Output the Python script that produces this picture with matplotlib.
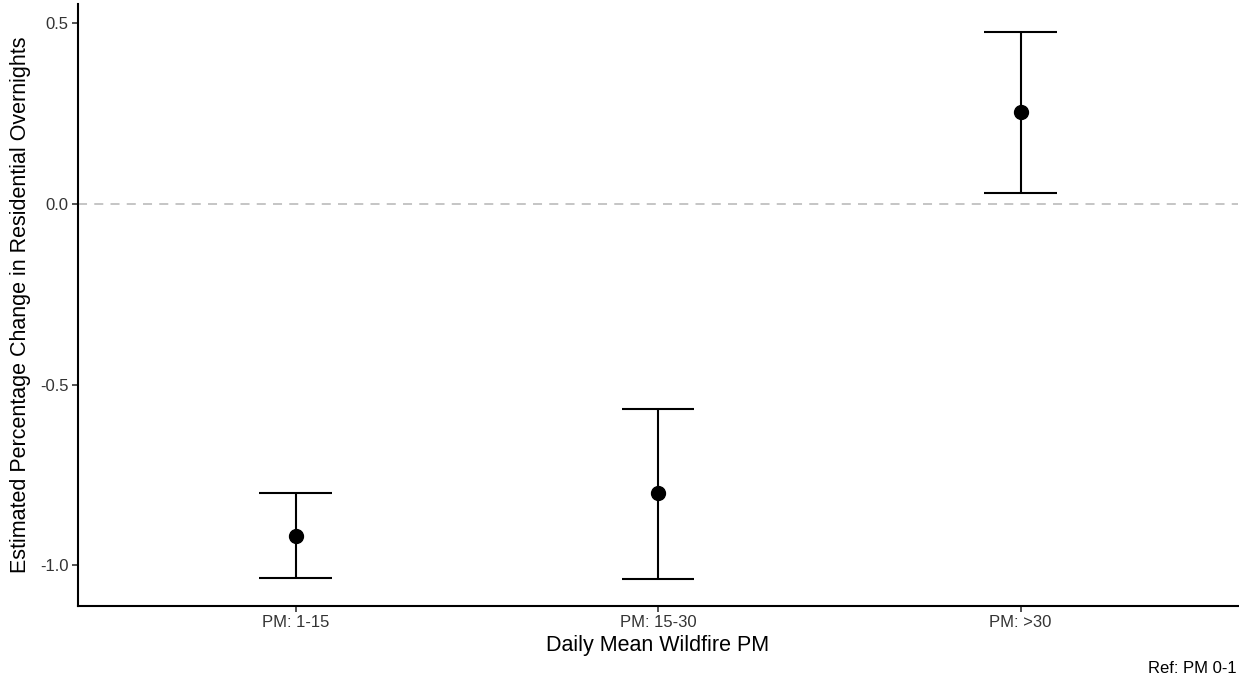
import matplotlib
matplotlib.use("Agg")
import matplotlib.pyplot as plt

plt.rcParams['font.family'] = ['Liberation Sans', 'DejaVu Sans']

categories = ["PM: 1-15", "PM: 15-30", "PM: >30"]
estimates = [-0.919, -0.800, 0.255]
lower = [-1.036, -1.038, 0.030]
upper = [-0.799, -0.567, 0.476]

fig = plt.figure(figsize=(12.39, 6.85), dpi=100)
ax = fig.add_axes([78/1239, (685-605.7)/685, (1238-78)/1239, (605.7-4)/685])

x = list(range(1, len(categories) + 1))
ax.axhline(0, color='#C0C0C0', lw=1.3, dashes=(5, 4), zorder=1)

for xi, lo, hi in zip(x, lower, upper):
    ax.vlines(xi, lo, hi, color='black', lw=1.5, zorder=2)
    ax.hlines([lo, hi], xi - 0.1, xi + 0.1, color='black', lw=1.5, zorder=2)
ax.plot(x, estimates, 'o', color='black', markersize=10, zorder=3)

ax.set_xlim(0.4, 3.6)
ax.set_ylim(-1.112, 0.553)
ax.set_xticks(x)
ax.set_xticklabels(categories)
ax.set_yticks([-1.0, -0.5, 0.0, 0.5])
ax.set_yticklabels(["-1.0", "-0.5", "0.0", "0.5"])

for s in ['top', 'right']:
    ax.spines[s].set_visible(False)
for s in ['left', 'bottom']:
    ax.spines[s].set_linewidth(1.5)
    ax.spines[s].set_color('black')

ax.tick_params(axis='both', length=4, width=1.2, color='#333333',
               labelsize=12, labelcolor='#333333', pad=3)

ax.set_xlabel("Daily Mean Wildfire PM", fontsize=15.5, color='black', labelpad=3)
ax.set_ylabel("Estimated Percentage Change in Residential Overnights", fontsize=15.5,
              color='black', labelpad=6)

fig.text(1237/1239, 1 - 676/685, "Ref: PM 0-1", ha='right', va='bottom',
         fontsize=12, color='black')

fig.savefig("out.png", dpi=100)
